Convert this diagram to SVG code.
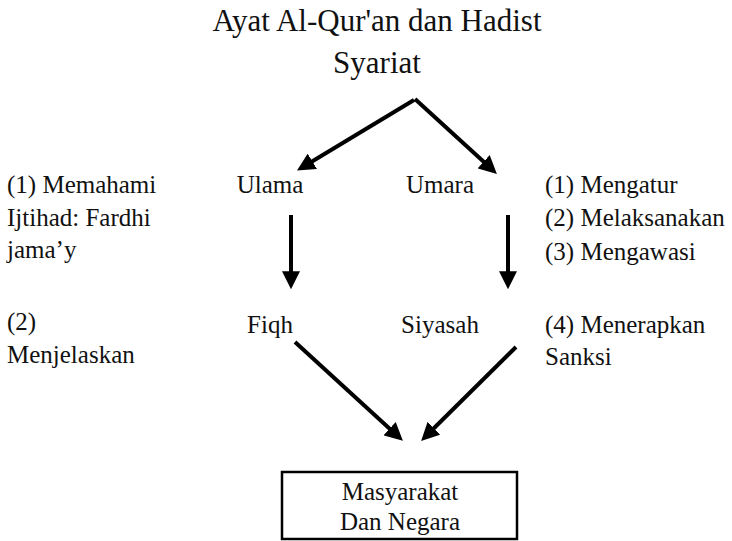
<svg xmlns="http://www.w3.org/2000/svg" width="732" height="541" viewBox="0 0 732 541">
<style>
text{font-family:"Liberation Serif","Times New Roman",serif;fill:#111}
.t{font-size:31px}
.b{font-size:25px}
.c{text-anchor:middle}
.a{stroke:#000;stroke-width:4;fill:none;marker-end:url(#ah)}
</style>
<defs>
<marker id="ah" markerUnits="userSpaceOnUse" markerWidth="18" markerHeight="18" viewBox="0 0 16 16" refX="6" refY="8" orient="auto">
<path d="M0,0 L16,8 L0,16 z" fill="#000"/>
</marker>
</defs>
<rect width="732" height="541" fill="#fff"/>
<g id="title"><text class="t c" x="377" y="31">Ayat Al-Qur'an dan Hadist</text></g>
<g id="syariat"><text class="t c" x="377" y="73">Syariat</text></g>
<g id="ulama"><text class="b c" x="270" y="193">Ulama</text></g>
<g id="umara"><text class="b c" x="440" y="193">Umara</text></g>
<g id="fiqh"><text class="b c" x="270" y="333">Fiqh</text></g>
<g id="siyasah"><text class="b c" x="440" y="333">Siyasah</text></g>
<g id="left-notes">
<text class="b" x="7" y="193">(1) Memahami</text>
<text class="b" x="7" y="226">Ijtihad: Fardhi</text>
<text class="b" x="7" y="258">jama’y</text>
<text class="b" x="7" y="330">(2)</text>
<text class="b" x="7" y="363">Menjelaskan</text>
</g>
<g id="right-notes">
<text class="b" x="545" y="193">(1) Mengatur</text>
<text class="b" x="545" y="226">(2) Melaksanakan</text>
<text class="b" x="545" y="260">(3) Mengawasi</text>
<text class="b" x="545" y="333">(4) Menerapkan</text>
<text class="b" x="545" y="365">Sanksi</text>
</g>
<g id="masyarakat">
<rect x="282" y="472" width="235" height="67" fill="#fff" stroke="#000" stroke-width="2.5"/>
<text class="b c" x="400" y="500">Masyarakat</text>
<text class="b c" x="400" y="530">Dan Negara</text>
</g>
<g id="connectors">
<line class="a" x1="414" y1="100" x2="306.6" y2="164.8"/>
<line class="a" x1="415" y1="99" x2="488.6" y2="166.3"/>
<line class="a" x1="291" y1="215" x2="291" y2="278"/>
<line class="a" x1="508" y1="215" x2="508" y2="278"/>
<line class="a" x1="295" y1="342" x2="394.6" y2="433.2"/>
<line class="a" x1="516" y1="347" x2="429.1" y2="433"/>
</g>
</svg>
